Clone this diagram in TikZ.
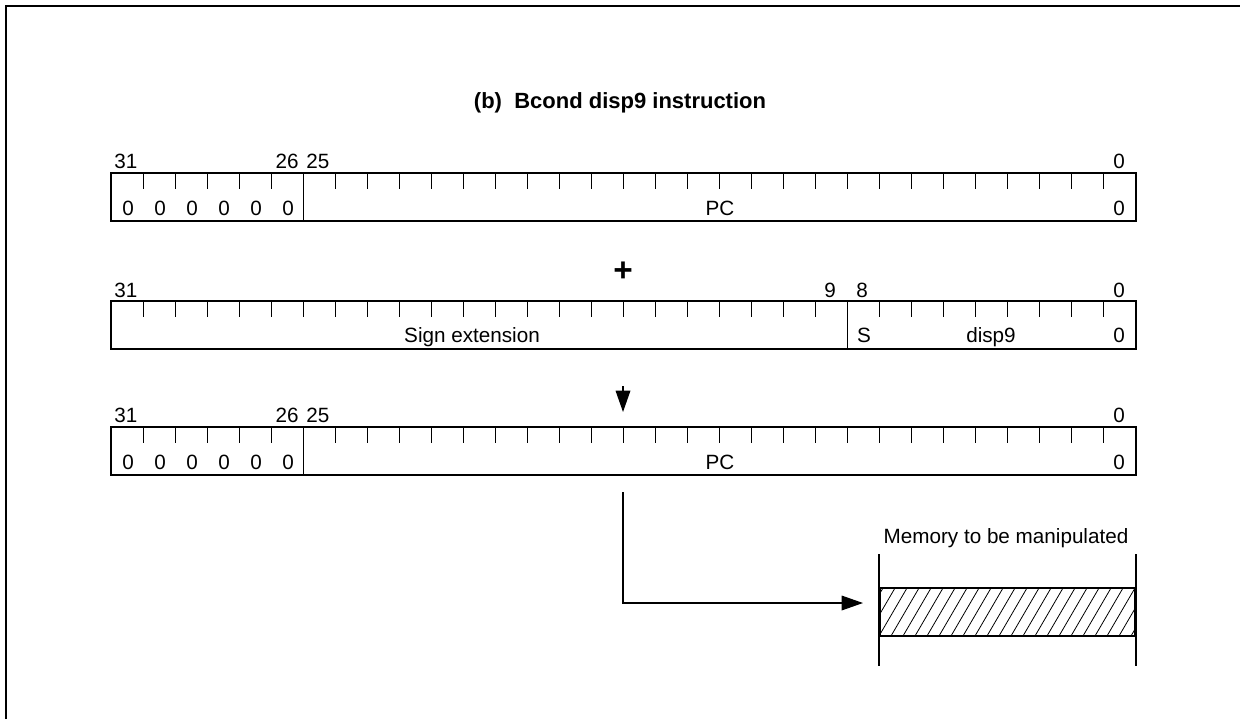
\documentclass[tikz,border=0pt]{standalone}
\usepackage{fontspec}
\setmainfont{Liberation Sans}
\usetikzlibrary{arrows.meta}
\begin{document}
\begin{tikzpicture}[x=0.75pt,y=-0.75pt,
  regbox/.style={draw, line width=1.5pt, minimum width=768.75pt, minimum height=36pt, inner sep=0pt},
  memstyle/.style={draw, line width=1.5pt, minimum width=191.25pt, minimum height=36pt, inner sep=0pt},
  tick/.style={line width=0.75pt},
  divider/.style={line width=0.75pt},
  lbl/.style={font=\fontsize{15.5}{18}\selectfont, inner sep=0pt, anchor=base},
  conn/.style={line width=0.9pt, -{Triangle[length=16pt,width=11pt]}},
  frame/.style={line width=1.6pt}
]
\useasboundingbox (0,0) rectangle (1240,719);
% outer frame (top and left)
\draw[frame] (6,719) -- (6,6) -- (1240,6);

% title
\node[lbl, font=\fontsize{16.5}{19}\selectfont\bfseries] (title) at (620,108) {(b)\ \ Bcond disp9 instruction};

% register 1
\node[regbox] (r1) at (623.5,197) {};
\foreach \k in {1,...,31} \draw[tick] (111+32*\k,173) -- ++(0,16);
\draw[divider] (303,173) -- (303,221);
\node[lbl, anchor=base west] (r1b31) at (114,168) {31};
\node[lbl, anchor=base east] (r1b26) at (299,168) {26};
\node[lbl, anchor=base west] (r1b25) at (306,168) {25};
\node[lbl] (r1b0) at (1119,168) {0};
\foreach \k in {0,...,5} \node[lbl] (r1z\k) at (128+32*\k,215) {0};
\node[lbl] (r1pc) at (720,215) {PC};
\node[lbl] (r1z) at (1119,215) {0};

% plus
\node[font=\fontsize{25}{25}\selectfont\bfseries, inner sep=0pt] (plus) at (623,272) {+};

% register 2
\node[regbox] (r2) at (623.5,325) {};
\foreach \k in {1,...,31} \draw[tick] (111+32*\k,301) -- ++(0,16);
\draw[divider] (847,301) -- (847,349);
\node[lbl, anchor=base west] (r2b31) at (114,297) {31};
\node[lbl] (r2b9) at (830,297) {9};
\node[lbl] (r2b8) at (862,297) {8};
\node[lbl] (r2b0) at (1119,297) {0};
\node[lbl] (r2se) at (472,342) {Sign extension};
\node[lbl] (r2s) at (864,342) {S};
\node[lbl] (r2d) at (991,342) {disp9};
\node[lbl] (r2z) at (1119,342) {0};

% register 3
\node[regbox] (r3) at (623.5,451) {};
\foreach \k in {1,...,31} \draw[tick] (111+32*\k,427) -- ++(0,16);
\draw[divider] (303,427) -- (303,475);
\node[lbl, anchor=base west] (r3b31) at (114,422) {31};
\node[lbl, anchor=base east] (r3b26) at (299,422) {26};
\node[lbl, anchor=base west] (r3b25) at (306,422) {25};
\node[lbl] (r3b0) at (1119,422) {0};
\foreach \k in {0,...,5} \node[lbl] (r3z\k) at (128+32*\k,469) {0};
\node[lbl] (r3pc) at (720,469) {PC};
\node[lbl] (r3z) at (1119,469) {0};

% arrow into register 3
\coordinate (a1) at (623,386);
\coordinate (a1end) at (623,412);
\draw[conn] (a1) -- (a1end);

% memory
\begin{scope}
\clip (879,588) rectangle (1135,636);
\foreach \i in {-4,...,24} \draw[line width=0.6pt] (879+12*\i,636) -- ++(28,-48);
\end{scope}
\node[memstyle] (mem) at (1007,612) {};
\draw[line width=1.5pt] (mem.north west) ++(0,-33) -- ++(0,112);
\draw[line width=1.5pt] (mem.north east) ++(0,-33) -- ++(0,112);
\node[lbl] (memlbl) at (1006,543) {Memory to be manipulated};

% connector from register 3 to memory
\coordinate (c0) at (623,492);
\coordinate (c1) at (623,603);
\coordinate (c2) at (863,603);
\draw[conn] (c0) -- (c1) -- (c2);
\end{tikzpicture}
\end{document}
